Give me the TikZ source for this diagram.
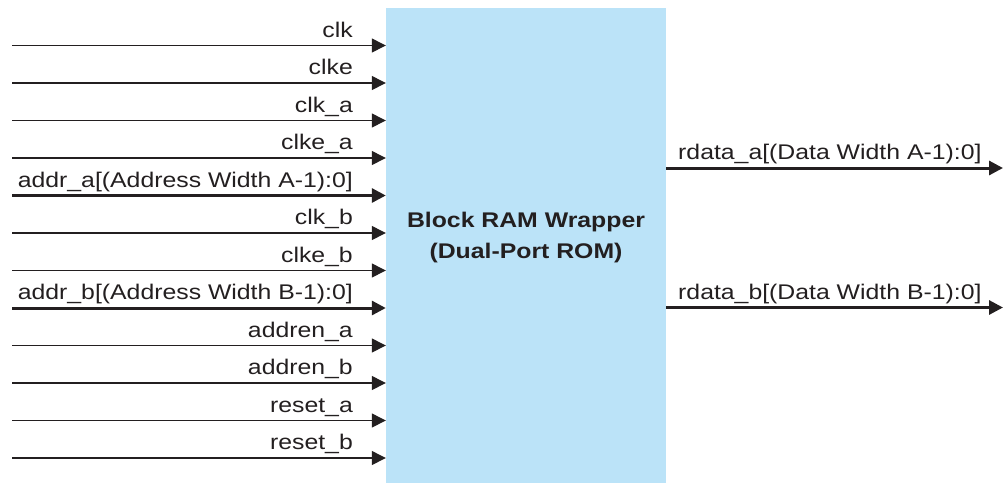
\documentclass[tikz,border=0pt]{standalone}
\usepackage{fontspec}
\setmainfont[FakeStretch=1.17]{Liberation Sans}
\usetikzlibrary{arrows.meta}
\definecolor{ramblue}{RGB}{187,227,248}
\definecolor{inkblack}{RGB}{35,31,32}

\begin{document}
\begin{tikzpicture}[x=1pt,y=-1pt,
    sig/.style={draw=inkblack,line width=1.3pt,-{Triangle[length=14pt,width=14pt]}},
    bus/.style={sig,line width=3pt},
    lbl/.style={inner sep=0pt,text=inkblack,font=\fontsize{21.2}{31}\selectfont}]
    \useasboundingbox (0,0) rectangle (1003,483);

    % the wrapper block
    \node[fill=ramblue,minimum width=280pt,minimum height=475pt,inner sep=0pt] (ram) at (526,245.5) {};
    \node[lbl,font=\fontsize{21.2}{31}\selectfont\bfseries,align=center] (title) at (526,238) {Block RAM Wrapper\\(Dual-Port ROM)};

    % inputs
    \foreach \txt/\ls [count=\i] in {clk/sig,clke/sig,clk\_a/sig,clke\_a/sig,
        {addr\_a[(Address Width A-1):0]}/bus,clk\_b/sig,clke\_b/sig,
        {addr\_b[(Address Width B-1):0]}/bus,addren\_a/sig,addren\_b/sig,
        reset\_a/sig,reset\_b/sig}
    {
        \pgfmathsetmacro{\y}{8+37.5*\i}
        \coordinate (in\i) at (12,\y);
        \draw[\ls] (in\i) -- (in\i -| ram.west);
        \node[lbl,anchor=base east] (lin\i) at (353,\y-8.5) {\txt};
    }

    % outputs
    \coordinate (out1) at (1003,168);
    \coordinate (out2) at (1003,307.5);
    \draw[bus] (ram.east |- out1) -- (out1);
    \draw[bus] (ram.east |- out2) -- (out2);
    \node[lbl,anchor=base west] (lout1) at (678,159.5) {rdata\_a[(Data Width A-1):0]};
    \node[lbl,anchor=base west] (lout2) at (678,299) {rdata\_b[(Data Width B-1):0]};
\end{tikzpicture}
\end{document}
